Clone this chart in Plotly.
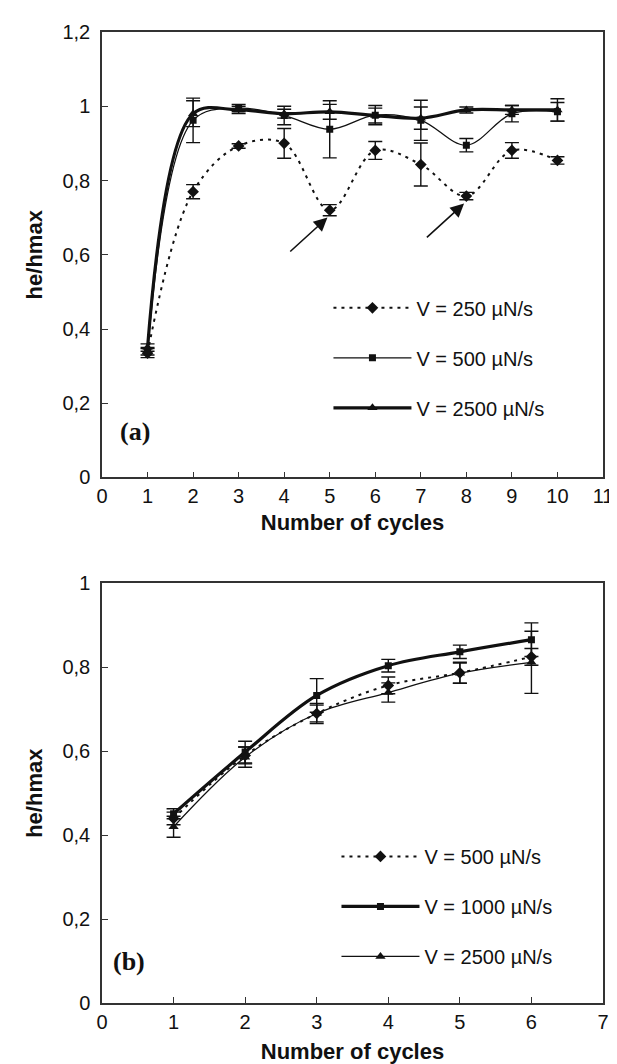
import plotly.graph_objects as go

# ---------- data (a) ----------
cycles_a = [1, 2, 3, 4, 5, 6, 7, 8, 9, 10]
a_v250 = [0.335, 0.770, 0.893, 0.900, 0.720, 0.881, 0.843, 0.758, 0.881, 0.854]
a_v250_err = [0.012, 0.019, 0.006, 0.040, 0.015, 0.024, 0.058, 0.010, 0.021, 0.010]
a_v500 = [0.340, 0.962, 0.995, 0.975, 0.938, 0.976, 0.962, 0.895, 0.980, 0.985]
a_v500_err = [0.010, 0.060, 0.010, 0.025, 0.077, 0.026, 0.054, 0.018, 0.022, 0.025]
a_v2500 = [0.350, 0.980, 0.990, 0.980, 0.985, 0.975, 0.968, 0.990, 0.990, 0.990]
a_v2500_err = [0.010, 0.035, 0.010, 0.012, 0.020, 0.020, 0.030, 0.008, 0.012, 0.030]
a_names = ["V = 250 µN/s", "V = 500 µN/s", "V = 2500 µN/s"]

# ---------- data (b) ----------
cycles_b = [1, 2, 3, 4, 5, 6]
b_v500 = [0.440, 0.590, 0.690, 0.757, 0.787, 0.825]
b_v500_err = [0.015, 0.020, 0.020, 0.020, 0.025, 0.020]
b_v1000 = [0.451, 0.598, 0.733, 0.804, 0.837, 0.866]
b_v1000_err = [0.012, 0.026, 0.040, 0.015, 0.016, 0.040]
b_v2500 = [0.420, 0.586, 0.690, 0.740, 0.786, 0.812]
b_v2500_err = [0.025, 0.024, 0.024, 0.023, 0.024, 0.074]
b_names = ["V = 500 µN/s", "V = 1000 µN/s", "V = 2500 µN/s"]

ya_ticks = [0, 0.2, 0.4, 0.6, 0.8, 1.0, 1.2]
ya_text = ["0", "0,2", "0,4", "0,6", "0,8", "1", "1,2"]
yb_ticks = [0, 0.2, 0.4, 0.6, 0.8, 1.0]
yb_text = ["0", "0,2", "0,4", "0,6", "0,8", "1"]

FONT = "Liberation Sans, Arial, sans-serif"
INK = "#111111"

fig = go.Figure()

def add(x, y, err, name, dash, width, symbol, msize, xa, ya, legend, group):
    fig.add_trace(go.Scatter(
        x=x, y=y, name=name, mode="lines+markers",
        line=dict(color=INK, width=width, dash=dash, shape="spline", smoothing=1.0),
        marker=dict(symbol=symbol, size=msize, color=INK),
        error_y=dict(type="data", array=err, visible=True, color=INK, thickness=1.4, width=7),
        xaxis=xa, yaxis=ya, legend=legend, legendgroup=group,
    ))

add(cycles_a, a_v250, a_v250_err, a_names[0], "3px,5px", 2, "diamond", 9, "x", "y", "legend", "a1")
add(cycles_a, a_v500, a_v500_err, a_names[1], "solid", 1.3, "square", 7, "x", "y", "legend", "a2")
add(cycles_a, a_v2500, a_v2500_err, a_names[2], "solid", 3.2, "triangle-up", 9, "x", "y", "legend", "a3")

add(cycles_b, b_v500, b_v500_err, b_names[0], "3px,5px", 2, "diamond", 9, "x2", "y2", "legend2", "b1")
add(cycles_b, b_v1000, b_v1000_err, b_names[1], "solid", 3.2, "square", 7, "x2", "y2", "legend2", "b2")
add(cycles_b, b_v2500, b_v2500_err, b_names[2], "solid", 1.3, "triangle-up", 9, "x2", "y2", "legend2", "b3")

axis_common = dict(
    showline=True, linecolor="#333333", linewidth=1.5, mirror=True,
    ticks="inside", ticklen=6, tickcolor="#333333", tickwidth=1,
    showgrid=False, zeroline=False,
    tickfont=dict(family=FONT, size=20, color=INK),
)
title_font = dict(family=FONT, size=22, color=INK, weight="bold")
legend_common = dict(xanchor="left", yanchor="top", bgcolor="rgba(0,0,0,0)",
                     font=dict(family=FONT, size=20, color=INK), itemwidth=78,
                     tracegroupgap=21, traceorder="grouped")

fig.update_layout(
    width=617, height=1064,
    margin=dict(l=94, r=13, t=24, b=68),
    paper_bgcolor="white", plot_bgcolor="white",
    showlegend=True,
    xaxis=dict(domain=[0, 1], range=[0, 11], tickvals=list(range(0, 12)), anchor="y",
               title=dict(text="Number of cycles", font=title_font, standoff=8), **axis_common),
    yaxis=dict(domain=[0.5412, 1], range=[0, 1.2], tickvals=ya_ticks, ticktext=ya_text, anchor="x",
               ticklabelstandoff=6,
               title=dict(text="he/hmax", font=title_font, standoff=14), **axis_common),
    xaxis2=dict(domain=[0, 1], range=[0, 7], tickvals=list(range(0, 8)), anchor="y2",
                title=dict(text="Number of cycles", font=title_font, standoff=12), **axis_common),
    yaxis2=dict(domain=[0, 0.4321], range=[0, 1], tickvals=yb_ticks, ticktext=yb_text, anchor="x2",
                ticklabelstandoff=6,
                title=dict(text="he/hmax", font=title_font, standoff=14), **axis_common),
    legend=dict(x=0.452, y=0.736, **legend_common),
    legend2=dict(x=0.468, y=0.171, **legend_common),
)

# panel labels
fig.add_annotation(x=0.72, y=0.125, xref="x", yref="y", text="<b>(a)</b>", showarrow=False,
                   font=dict(family="Liberation Serif, Times New Roman, serif", size=26, color=INK))
fig.add_annotation(x=0.38, y=0.10, xref="x2", yref="y2", text="<b>(b)</b>", showarrow=False,
                   font=dict(family="Liberation Serif, Times New Roman, serif", size=26, color=INK))

# arrows pointing at the minima of V = 250 µN/s
for i in (4, 7):
    fig.add_annotation(x=cycles_a[i] - 0.05, y=a_v250[i] - 0.02, xref="x", yref="y",
                       ax=cycles_a[i] - 0.9, ay=a_v250[i] - 0.115, axref="x", ayref="y",
                       showarrow=True, arrowhead=2, arrowsize=1.7, arrowwidth=1.6,
                       arrowcolor=INK, text="")

fig.write_html("out.html")
